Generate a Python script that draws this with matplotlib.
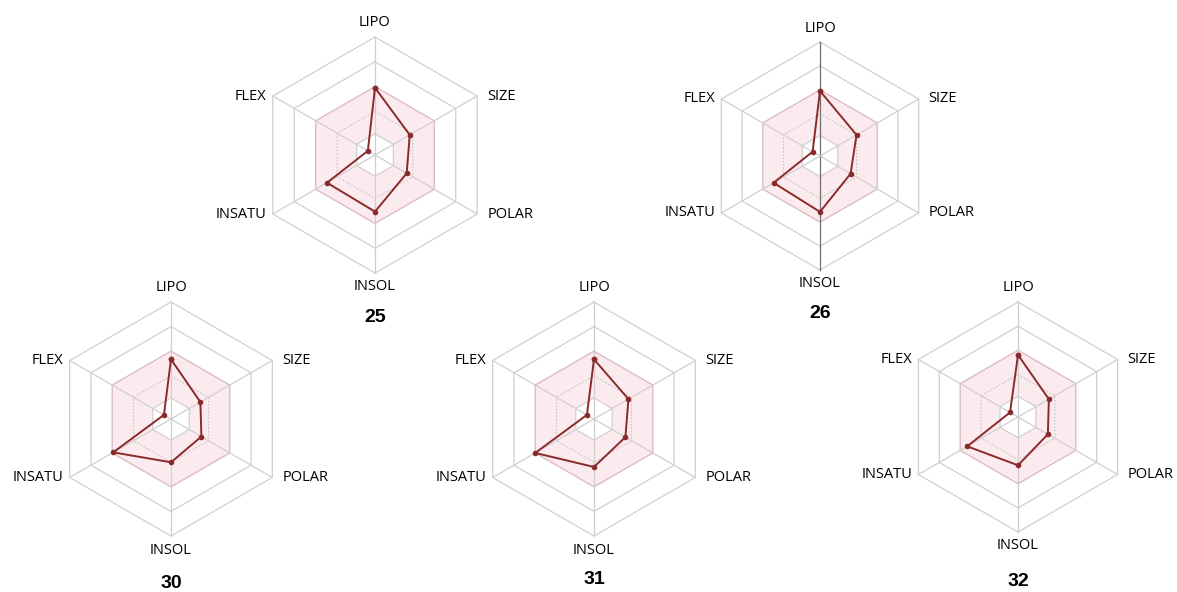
import numpy as np
import matplotlib.pyplot as plt

# ejes del radar (sentido horario desde arriba)
props = ['LIPO', 'SIZE', 'POLAR', 'INSOL', 'INSATU', 'FLEX']
angs = np.deg2rad([90, 30, -30, -90, -150, 150])

# anillos de la rejilla, fraccion del radio exterior
rings = [0.18, 0.37, 0.58, 0.79, 1.0]
r_in, r_out = 0.18, 0.58   # zona rosa

compuestos = ['25', '26', '30', '31', '32']
v25 = [0.57, 0.34, 0.31, 0.48, 0.47, 0.07]
v26 = [0.57, 0.37, 0.31, 0.49, 0.47, 0.075]
v30 = [0.51, 0.29, 0.30, 0.37, 0.57, 0.07]
v31 = [0.51, 0.34, 0.31, 0.41, 0.58, 0.07]
v32 = [0.54, 0.31, 0.30, 0.42, 0.51, 0.08]
valores = [v25, v26, v30, v31, v32]

# centro (px), radio (px), y del numero (px)
cx = [375, 820, 171, 594, 1018]
cy = [155, 156, 419, 419, 417]
rad = [118, 114, 117, 117, 115]
ynum = [317, 314, 583, 579, 581]

W, H = 1177, 592
L = 1.7
fuente = 'Open Sans'

fig = plt.figure(figsize=(W/100, H/100), dpi=100)

def hexa(r):
    x = r*np.cos(angs)
    y = r*np.sin(angs)
    return np.append(x, x[0]), np.append(y, y[0])

for k in range(5):
    R = rad[k]
    ax = fig.add_axes([(cx[k]-L*R)/W, 1-(cy[k]+L*R)/H, 2*L*R/W, 2*L*R/H])
    ax.set_xlim(-L, L)
    ax.set_ylim(-L, L)
    ax.set_aspect('equal')
    ax.axis('off')

    x, y = hexa(r_out)
    ax.fill(x, y, color='#fcebee', zorder=1, lw=0)
    x, y = hexa(r_in)
    ax.fill(x, y, color='white', zorder=1, lw=0)

    for r in rings:
        x, y = hexa(r)
        if r == r_out:
            ax.plot(x, y, color='#dcbcc2', lw=1.0, zorder=2)
        elif r == 0.37:
            ax.plot(x, y, color='#c4c4c4', lw=0.8, ls=(0, (1.5, 1.5)), zorder=2)
        else:
            ax.plot(x, y, color='#d0d0d0', lw=0.9, zorder=2)

    for i, a in enumerate(angs):
        c = '#cfcfcf'
        if k == 1 and i in (0, 3):
            c = '#707070'
        ax.plot([0, np.cos(a)], [0, np.sin(a)], color=c, lw=0.9, zorder=2)

    # etiquetas de los ejes
    off = 10/R
    ax.text(0, 1+14/R, 'LIPO', ha='center', va='center', fontsize=10.5, family=fuente)
    ax.text(np.cos(angs[1])+off, np.sin(angs[1]), 'SIZE', ha='left', va='center', fontsize=10.5, family=fuente)
    ax.text(np.cos(angs[2])+off, np.sin(angs[2]), 'POLAR', ha='left', va='center', fontsize=10.5, family=fuente)
    ax.text(0, -1-14/R, 'INSOL', ha='center', va='center', fontsize=10.5, family=fuente)
    ax.text(np.cos(angs[4])-6/R, np.sin(angs[4]), 'INSATU', ha='right', va='center', fontsize=10.5, family=fuente)
    ax.text(np.cos(angs[5])-6/R, np.sin(angs[5]), 'FLEX', ha='right', va='center', fontsize=10.5, family=fuente)

    v = np.array(valores[k])
    x = v*np.cos(angs)
    y = v*np.sin(angs)
    x = np.append(x, x[0])
    y = np.append(y, y[0])
    ax.plot(x, y, color='#8a2a2a', lw=1.4, marker='o', ms=3, zorder=3)

    ax.text(0, -(ynum[k]-cy[k])/R, compuestos[k], ha='center', va='center',
            fontsize=14, fontweight='bold', family='Liberation Sans')

fig.savefig('out.png', dpi=100, facecolor='white')
